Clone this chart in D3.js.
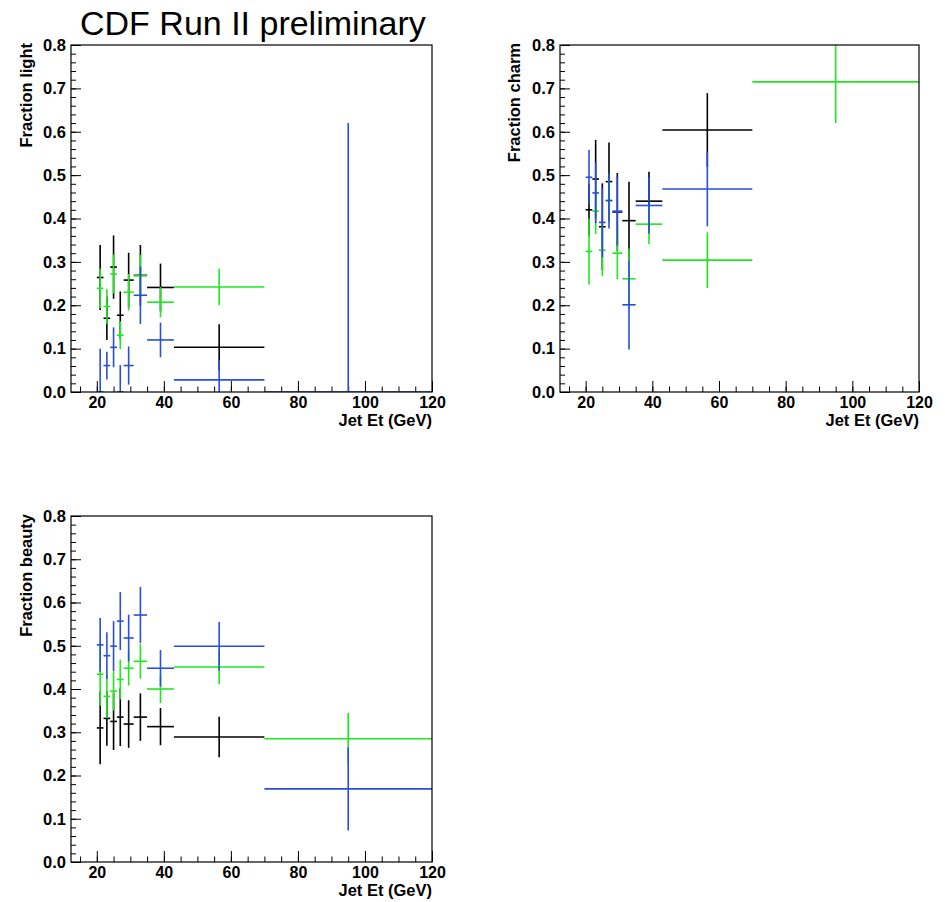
<!DOCTYPE html>
<html>
<head>
<meta charset="utf-8">
<script src="https://cdn.jsdelivr.net/npm/d3@7"></script>
<style>
  body { margin: 0; background: #fff; }
  svg { display: block; }
  text { font-family: "Liberation Sans", Arial, sans-serif; }
</style>
</head>
<body>
<div id="viz-container"></div>
<script>
// Jet Et bin edges (GeV)
const binEdges = [20, 22, 24, 26, 28, 31, 35, 43, 70, 120];
const yTicks = [0, 0.1, 0.2, 0.3, 0.4, 0.5, 0.6, 0.7, 0.8];
const xTicks = [20, 40, 60, 80, 100, 120];

// fraction light
const lightBlack = [0.264, 0.170, 0.288, 0.177, 0.258, 0.269, 0.241, 0.103, null];
const lightBlackErr = [0.075, 0.05, 0.073, 0.055, 0.063, 0.07, 0.055, 0.053, null];
const lightGreen = [0.239, 0.197, 0.272, 0.131, 0.230, 0.268, 0.207, 0.242, null];
const lightGreenErr = [0.046, 0.04, 0.045, 0.032, 0.042, 0.048, 0.035, 0.042, null];
const lightBlue = [0.0, 0.061, 0.103, 0.0, 0.061, 0.223, 0.120, 0.028, 0.0];
const lightBlueErr = [0.10, 0.032, 0.046, 0.062, 0.044, 0.066, 0.04, 0.046, 0.62];

// fraction charm
const charmBlack = [0.42, 0.491, 0.381, 0.485, 0.415, 0.395, 0.440, 0.604, null];
const charmBlackErr = [0.06, 0.09, 0.10, 0.09, 0.09, 0.09, 0.068, 0.085, null];
const charmGreen = [0.324, 0.417, 0.327, 0.442, 0.320, 0.261, 0.387, 0.304, 0.715];
const charmGreenErr = [0.076, 0.053, 0.06, 0.05, 0.06, 0.07, 0.046, 0.064, 0.095];
const charmBlue = [0.495, 0.459, 0.391, 0.441, 0.417, 0.201, 0.430, 0.468, null];
const charmBlueErr = [0.063, 0.07, 0.08, 0.064, 0.079, 0.103, 0.065, 0.086, null];

// fraction beauty
const beautyBlack = [0.310, 0.332, 0.325, 0.335, 0.319, 0.335, 0.313, 0.289, null];
const beautyBlackErr = [0.084, 0.063, 0.066, 0.067, 0.055, 0.055, 0.043, 0.047, null];
const beautyGreen = [0.434, 0.383, 0.395, 0.422, 0.448, 0.464, 0.400, 0.451, 0.285];
const beautyGreenErr = [0.073, 0.05, 0.045, 0.046, 0.04, 0.04, 0.033, 0.04, 0.06];
const beautyBlue = [0.502, 0.477, 0.499, 0.557, 0.518, 0.571, 0.448, 0.499, 0.169];
const beautyBlueErr = [0.062, 0.054, 0.058, 0.067, 0.054, 0.065, 0.042, 0.056, 0.096];

let viz = d3.select("#viz-container")
    .append("svg")
    .attr("width", 945)
    .attr("height", 902);

viz.append("text")
    .attr("x", 80)
    .attr("y", 35)
    .attr("font-size", "34px")
    .text("CDF Run II preliminary");

let panels = [
    { title: "Fraction light", left: 71, top: 45, right: 432, bottom: 392, titleX: 32,
      series: [[lightBlack, lightBlackErr, "#000000"], [lightGreen, lightGreenErr, "#1ee81e"], [lightBlue, lightBlueErr, "#2a4ddd"]] },
    { title: "Fraction charm", left: 560, top: 45, right: 919, bottom: 392, titleX: 520,
      series: [[charmBlack, charmBlackErr, "#000000"], [charmGreen, charmGreenErr, "#1ee81e"], [charmBlue, charmBlueErr, "#2a4ddd"]] },
    { title: "Fraction beauty", left: 71, top: 516, right: 432, bottom: 862, titleX: 32,
      series: [[beautyBlack, beautyBlackErr, "#000000"], [beautyGreen, beautyGreenErr, "#1ee81e"], [beautyBlue, beautyBlueErr, "#2a4ddd"]] }
];

panels.forEach((p, pi) => {
    let x = d3.scaleLinear().domain([12.3, 120]).range([p.left, p.right]);
    let y = d3.scaleLinear().domain([0, 0.8]).range([p.bottom, p.top]);

    // minor ticks
    viz.append("g")
        .attr("transform", `translate(0,${p.bottom})`)
        .call(d3.axisBottom(x).tickValues(d3.range(15, 120, 5)).tickSize(-5.5).tickFormat(""))
        .call(g => g.select(".domain").remove());
    viz.append("g")
        .attr("transform", `translate(${p.left},0)`)
        .call(d3.axisLeft(y).tickValues(d3.range(0, 0.801, 0.02)).tickSize(-5).tickFormat(""))
        .call(g => g.select(".domain").remove());

    // major ticks + labels
    viz.append("g")
        .attr("transform", `translate(0,${p.bottom})`)
        .call(d3.axisBottom(x).tickValues(xTicks).tickSize(-11).tickPadding(5).tickFormat(d3.format("d")))
        .call(g => g.select(".domain").remove())
        .call(g => g.selectAll("text").attr("font-size", "16px").attr("font-weight", "bold")
            .attr("font-family", "Liberation Sans, Arial, sans-serif").attr("fill", "#000"));
    viz.append("g")
        .attr("transform", `translate(${p.left},0)`)
        .call(d3.axisLeft(y).tickValues(yTicks).tickSize(-10).tickPadding(5).tickFormat(d3.format(".1f")))
        .call(g => g.select(".domain").remove())
        .call(g => g.selectAll("text").attr("font-size", "16.5px").attr("font-weight", "bold")
            .attr("font-family", "Liberation Sans, Arial, sans-serif").attr("fill", "#000"));

    // axis titles
    viz.append("text")
        .attr("x", p.right)
        .attr("y", p.bottom + 34)
        .attr("text-anchor", "end")
        .attr("font-size", "16.5px")
        .attr("font-weight", "bold")
        .text("Jet Et (GeV)");
    viz.append("text")
        .attr("transform", `translate(${p.titleX},${p.top - 2}) rotate(-90)`)
        .attr("text-anchor", "end")
        .attr("font-size", "16.5px")
        .attr("font-weight", "bold")
        .text(p.title);

    // error bars, clipped to the frame
    viz.append("clipPath").attr("id", "clip" + pi)
        .append("rect")
        .attr("x", p.left).attr("y", p.top)
        .attr("width", p.right - p.left).attr("height", p.bottom - p.top);
    let plot = viz.append("g").attr("clip-path", `url(#clip${pi})`);

    p.series.forEach(([vals, errs, color]) => {
        let pts = vals.map((v, i) => ({ v: v, e: errs[i], lo: binEdges[i], hi: binEdges[i + 1] }))
            .filter(d => d.v !== null);
        let g = plot.append("g").attr("stroke", color).attr("stroke-width", 1.6);
        g.selectAll(".h").data(pts).enter()
            .append("line")
            .attr("x1", d => x(d.lo))
            .attr("x2", d => x(d.hi))
            .attr("y1", d => y(d.v))
            .attr("y2", d => y(d.v));
        g.selectAll(".v").data(pts).enter()
            .append("line")
            .attr("x1", d => x((d.lo + d.hi) / 2))
            .attr("x2", d => x((d.lo + d.hi) / 2))
            .attr("y1", d => y(d.v - d.e))
            .attr("y2", d => y(d.v + d.e));
    });

    // frame
    viz.append("rect")
        .attr("x", p.left).attr("y", p.top)
        .attr("width", p.right - p.left).attr("height", p.bottom - p.top)
        .attr("fill", "none")
        .attr("stroke", "#000")
        .attr("stroke-width", 1.2);
});
</script>
</body>
</html>
